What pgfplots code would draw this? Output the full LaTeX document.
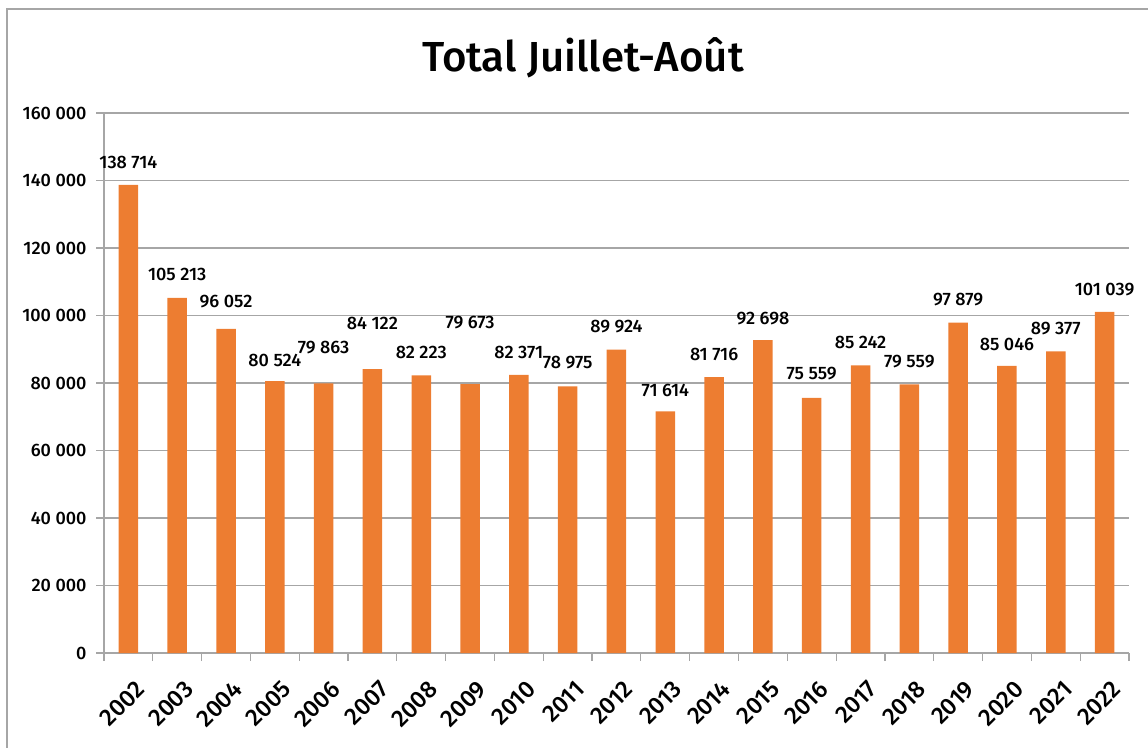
\documentclass[border=0pt]{standalone}
\usepackage{pgfplots}
\pgfplotsset{compat=1.18}
\usepackage{pgfplotstable}
\usepackage{fontspec}
\setmainfont{Fira Sans}[UprightFont={* Medium}]
\definecolor{barorange}{HTML}{ED7D31}
\definecolor{gridgray}{HTML}{A6A6A6}

% idx: year position, value: bar height, labely: where the value label sits
\pgfplotstableread{
idx value  labely
0   138714 145481
1   105213 112296
2   96052  104000
3   80524  86815
4   79863  90370
5   84122  97778
6   82223  89185
7   79673  97778
8   82371  89185
9   78975  85926
10  89924  96593
11  71614  77926
12  81716  88593
13  92698  98963
14  75559  82667
15  85242  92148
16  79559  86222
17  97879  104593
18  85046  91556
19  89377  96000
20  101039 107556
}\datatable

\begin{document}
\begin{tikzpicture}
\useasboundingbox (0,0) rectangle (1148pt,747pt);
\draw[gridgray, line width=1.5pt] (7pt,-20pt) rectangle (1170pt,738pt);
\node[font=\fontsize{42}{48}\selectfont] at (583pt,689pt) {Total Juillet-Août};
\begin{axis}[
    at={(104pt,94pt)}, anchor=south west,
    scale only axis, width=1025pt, height=540pt,
    xmin=-0.5, xmax=20.5, ymin=0, ymax=160000,
    axis x line*=bottom, axis y line*=left,
    axis line style={gridgray, line width=1.2pt, -},
    ytick={0,20000,...,160000}, ymajorgrids,
    grid style={gridgray, line width=1.2pt},
    scaled y ticks=false,
    xtick={-0.5,0.5,...,20.5}, x tick label as interval,
    xticklabels={2002,2003,2004,2005,2006,2007,2008,2009,2010,2011,2012,2013,2014,2015,2016,2017,2018,2019,2020,2021,2022},
    tick align=outside, major tick length=8pt,
    tick style={gridgray, line width=1.2pt},
    x tick label style={rotate=45, anchor=north east, xshift=-5pt, yshift=-14pt,
        font=\fontsize{24}{28}\selectfont},
    y tick label style={xshift=-6pt, font=\fontsize{18}{22}\selectfont},
    /pgf/number format/fixed,
    /pgf/number format/precision=0,
    /pgf/number format/1000 sep={\ },
    /pgf/number format/assume math mode=true,
]
\addplot[ybar, fill=barorange, draw=none, bar width=19.5pt] table[x=idx, y=value] {\datatable};
\addplot[draw=none, mark=none, point meta=explicit,
    nodes near coords,
    nodes near coords style={anchor=center, font=\fontsize{18}{22}\selectfont}]
    table[x=idx, y=labely, meta=value] {\datatable};
\end{axis}
\end{tikzpicture}
\end{document}
